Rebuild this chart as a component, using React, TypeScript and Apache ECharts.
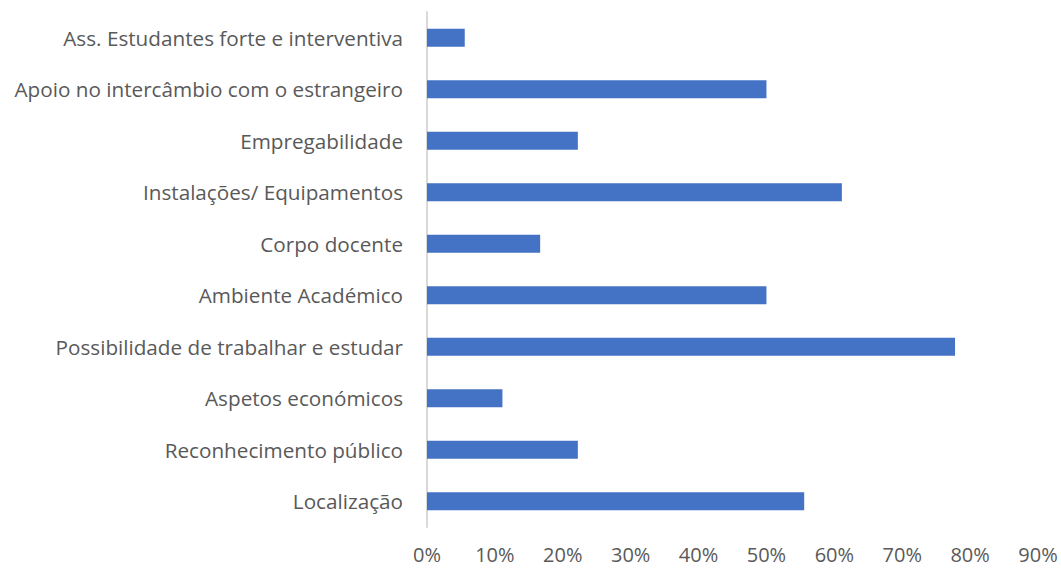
import React, { useEffect, useRef } from "react";
import * as echarts from "echarts";

const categories = [
  "Localização",
  "Reconhecimento público",
  "Aspetos económicos",
  "Possibilidade de trabalhar e estudar",
  "Ambiente Académico",
  "Corpo docente",
  "Instalações/ Equipamentos",
  "Empregabilidade",
  "Apoio no intercâmbio com o estrangeiro",
  "Ass. Estudantes forte e interventiva",
];

const values = [55.56, 22.22, 11.11, 77.78, 50, 16.67, 61.11, 22.22, 50, 5.56];

const xMin = 0;
const xMax = 90;
const xInterval = 10;

export default function App() {
  const ref = useRef<HTMLDivElement>(null);
  useEffect(() => {
    if (!ref.current) return;
    const chart = echarts.init(ref.current, undefined, { renderer: "svg" });
    const font = "'Open Sans', 'Noto Sans', sans-serif";
    chart.setOption({
      animation: false,
      backgroundColor: "#ffffff",
      grid: { left: 427, right: 23, top: 12, bottom: 42, containLabel: false },
      xAxis: {
        type: "value",
        min: xMin,
        max: xMax,
        interval: xInterval,
        axisLine: { show: false },
        axisTick: { show: false },
        splitLine: { show: false },
        axisLabel: {
          formatter: "{value}%",
          color: "#595959",
          fontSize: 20,
          fontFamily: font,
          margin: 17,
        },
      },
      yAxis: {
        type: "category",
        data: categories,
        axisLine: { show: true, lineStyle: { color: "#d9d9d9", width: 2 } },
        axisTick: { show: false },
        axisLabel: {
          color: "#595959",
          fontSize: 20.7,
          fontFamily: font,
          margin: 24,
        },
      },
      series: [
        {
          type: "bar",
          data: values,
          barWidth: 18,
          itemStyle: { color: "#4472C4" },
        },
      ],
    });
    return () => chart.dispose();
  }, []);
  return (
    <div
      ref={ref}
      style={{ position: "fixed", left: 0, top: 0, width: 1061, height: 569, background: "#fff" }}
    />
  );
}
